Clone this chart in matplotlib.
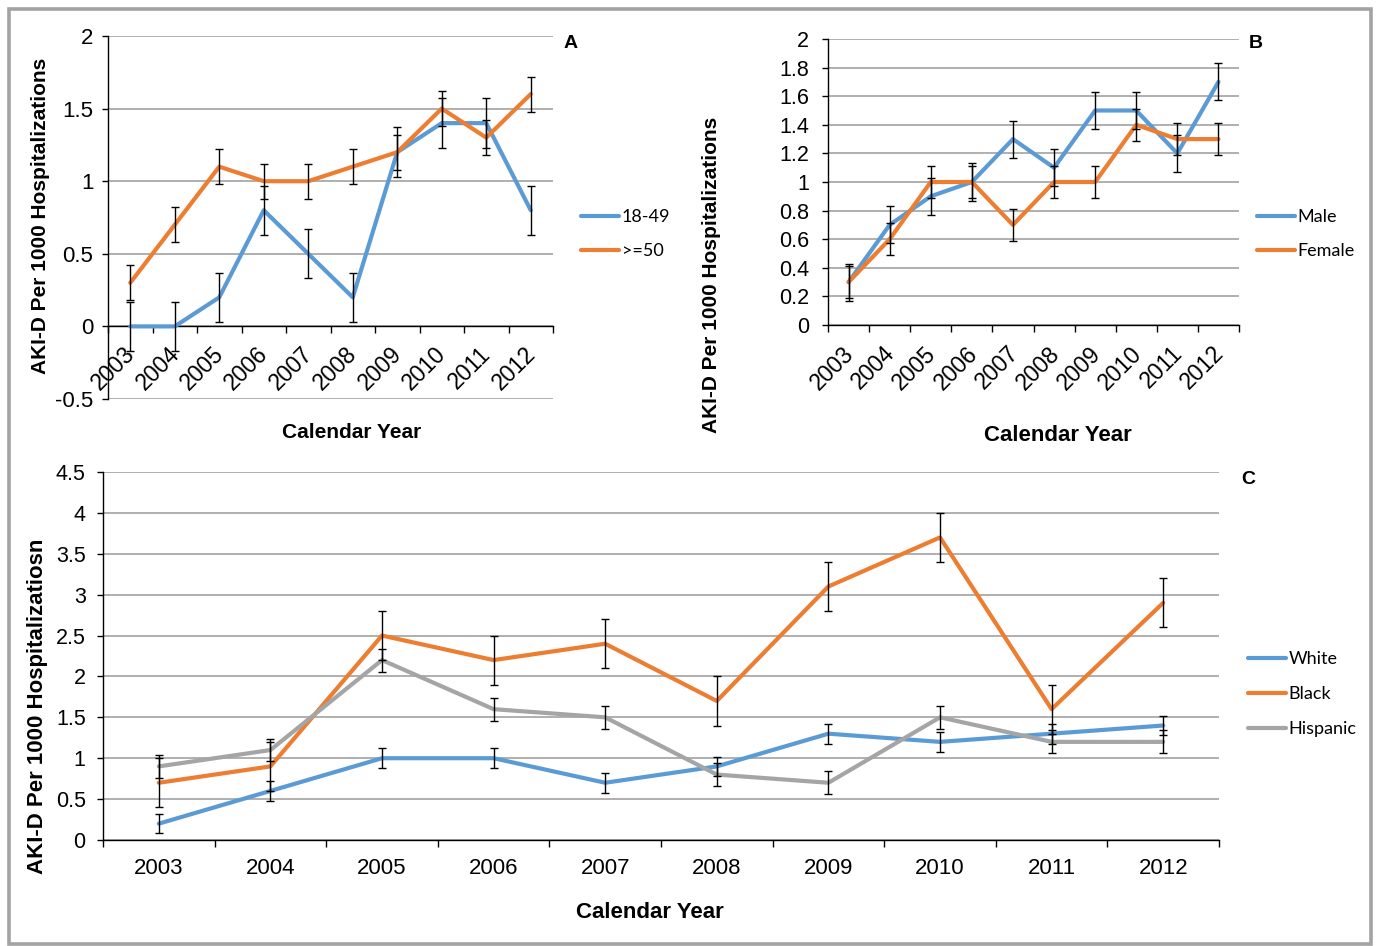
import matplotlib
matplotlib.use('Agg')
import matplotlib.pyplot as plt
from matplotlib.transforms import ScaledTranslation
from matplotlib.patches import Rectangle

# ---------------- data ----------------
years = ['2003', '2004', '2005', '2006', '2007', '2008', '2009', '2010', '2011', '2012']

# Panel A: age groups
age_18_49 = [0.0, 0.0, 0.2, 0.8, 0.5, 0.2, 1.2, 1.4, 1.4, 0.8]
age_18_49_err = [0.17] * 10
age_50plus = [0.3, 0.7, 1.1, 1.0, 1.0, 1.1, 1.2, 1.5, 1.3, 1.6]
age_50plus_err = [0.12] * 10

# Panel B: sex
male = [0.3, 0.7, 0.9, 1.0, 1.3, 1.1, 1.5, 1.5, 1.2, 1.7]
male_err = [0.13] * 10
female = [0.3, 0.6, 1.0, 1.0, 0.7, 1.0, 1.0, 1.4, 1.3, 1.3]
female_err = [0.11] * 10

# Panel C: race / ethnicity
white = [0.2, 0.6, 1.0, 1.0, 0.7, 0.9, 1.3, 1.2, 1.3, 1.4]
white_err = [0.12] * 10
black = [0.7, 0.9, 2.5, 2.2, 2.4, 1.7, 3.1, 3.7, 1.6, 2.9]
black_err = [0.3] * 10
hispanic = [0.9, 1.1, 2.2, 1.6, 1.5, 0.8, 0.7, 1.5, 1.2, 1.2]
hispanic_err = [0.14] * 10

yticks_a = [-0.5, 0, 0.5, 1, 1.5, 2]
yticks_b = [0, 0.2, 0.4, 0.6, 0.8, 1, 1.2, 1.4, 1.6, 1.8, 2]
yticks_c = [0, 0.5, 1, 1.5, 2, 2.5, 3, 3.5, 4, 4.5]

# ---------------- style ----------------
BLUE = '#5B9BD5'
ORANGE = '#ED7D31'
GRAY = '#A5A5A5'
GRID = '#9a9a9a'
ARIAL = 'Liberation Sans'
LEG = 'Lato'

W, H = 1377, 946
fig = plt.figure(figsize=(W / 100, H / 100), dpi=100)


def px(x, y):
    return x / W, 1 - y / H


def axrect(l, t, r, b):
    return [l / W, 1 - b / H, (r - l) / W, (b - t) / H]


def setup(ax, ylim, yticks, ypad, yfs):
    n = len(years)
    ax.set_xlim(0, n)
    ax.set_ylim(*ylim)
    ax.set_yticks(yticks)
    ax.set_yticklabels(['%g' % t for t in yticks], fontfamily=ARIAL, fontsize=yfs)
    ax.set_xticks(range(n + 1))
    ax.set_xticklabels([])
    for s in ['top', 'right']:
        ax.spines[s].set_visible(False)
    ax.spines['left'].set_color('black')
    ax.spines['bottom'].set_color('black')
    ax.spines['left'].set_linewidth(1.0)
    ax.spines['bottom'].set_linewidth(1.0)
    ax.tick_params(axis='y', direction='out', length=4.5, width=1, pad=ypad, colors='black')
    ax.tick_params(axis='x', direction='out', length=5, width=1, colors='black')
    ax.yaxis.grid(True, color=GRID, linewidth=1.1)
    ax.set_axisbelow(True)


def series(ax, vals, errs, color, label, z):
    x = [i + 0.5 for i in range(len(vals))]
    line, = ax.plot(x, vals, color=color, lw=3.0, label=label, zorder=z,
                    solid_capstyle='round', solid_joinstyle='round')
    ax.errorbar(x, vals, yerr=errs, fmt='none', ecolor='black', elinewidth=1.0,
                capsize=3, capthick=1.0, zorder=6)
    return line


def rotated_labels(ax, dx, dy, fs):
    tr = ax.transData + ScaledTranslation(dx / 100, -dy / 100, fig.dpi_scale_trans)
    for i, lab in enumerate(years):
        ax.text(i + 0.5, 0, lab, transform=tr, rotation=45, rotation_mode='anchor',
                ha='right', va='center', fontfamily=ARIAL, fontsize=fs, clip_on=False)


def legend(ax, handles, x, y, spacing):
    ax.legend(handles=handles, loc='center left', bbox_to_anchor=px(x, y),
              bbox_transform=fig.transFigure, frameon=False, borderpad=0,
              borderaxespad=0, handlelength=2.1, handletextpad=0.15,
              labelspacing=spacing, prop={'family': LEG, 'size': 13})


# ---------------- Panel A ----------------
axA = fig.add_axes(axrect(108, 36, 553, 399))
setup(axA, (-0.5, 2), yticks_a, 6, 16)
axA.spines['bottom'].set_position(('data', 0))
lA1 = series(axA, age_18_49, age_18_49_err, BLUE, '18-49', 3)
lA2 = series(axA, age_50plus, age_50plus_err, ORANGE, '>=50', 4)
rotated_labels(axA, 1, 24, 16.5)
legend(axA, [lA1, lA2], 581, 234, 1.0)

# ---------------- Panel B ----------------
axB = fig.add_axes(axrect(828, 39, 1239, 325))
setup(axB, (0, 2), yticks_b, 9, 15.5)
lB1 = series(axB, male, male_err, BLUE, 'Male', 3)
lB2 = series(axB, female, female_err, ORANGE, 'Female', 4)
rotated_labels(axB, 2, 25, 16.5)
legend(axB, [lB1, lB2], 1257, 234, 1.0)

# ---------------- Panel C ----------------
axC = fig.add_axes(axrect(103, 472, 1219, 840))
setup(axC, (0, 4.5), yticks_c, 8, 15.5)
lC1 = series(axC, white, white_err, BLUE, 'White', 3)
lC2 = series(axC, black, black_err, ORANGE, 'Black', 4)
lC3 = series(axC, hispanic, hispanic_err, GRAY, 'Hispanic', 5)
axC.set_xticks([i + 0.5 for i in range(len(years))], minor=True)
axC.set_xticklabels(years, minor=True, fontfamily=ARIAL, fontsize=16)
axC.tick_params(axis='x', which='minor', length=0, pad=13)
legend(axC, [lC1, lC2, lC3], 1248, 694, 1.05)

# ---------------- titles / labels ----------------
ylab = 'AKI-D Per 1000 Hospitalizations'
fig.text(*px(41, 216), ylab, rotation=90, ha='center', va='center',
         fontfamily=ARIAL, fontweight='bold', fontsize=15)
fig.text(*px(712, 275), ylab, rotation=90, ha='center', va='center',
         fontfamily=ARIAL, fontweight='bold', fontsize=15)
fig.text(*px(38, 706), 'AKI-D Per 1000 Hospitalizatiosn', rotation=90, ha='center',
         va='center', fontfamily=ARIAL, fontweight='bold', fontsize=16)

fig.text(*px(352, 432), 'Calendar Year', ha='center', va='center',
         fontfamily=ARIAL, fontweight='bold', fontsize=15)
fig.text(*px(1058, 435), 'Calendar Year', ha='center', va='center',
         fontfamily=ARIAL, fontweight='bold', fontsize=16)
fig.text(*px(650, 912), 'Calendar Year', ha='center', va='center',
         fontfamily=ARIAL, fontweight='bold', fontsize=16)

for lab, (x, y) in [('A', (571, 43)), ('B', (1256, 43)), ('C', (1248, 479))]:
    fig.text(*px(x, y), lab, ha='center', va='center', fontfamily=ARIAL,
             fontweight='bold', fontsize=14)

# outer frame
fig.patches.append(Rectangle(px(9, 944), (1371 - 9) / W, (944 - 9) / H,
                             transform=fig.transFigure, fill=False,
                             edgecolor='#a3a3a3', linewidth=2.6))

fig.savefig('out.png', dpi=100)
